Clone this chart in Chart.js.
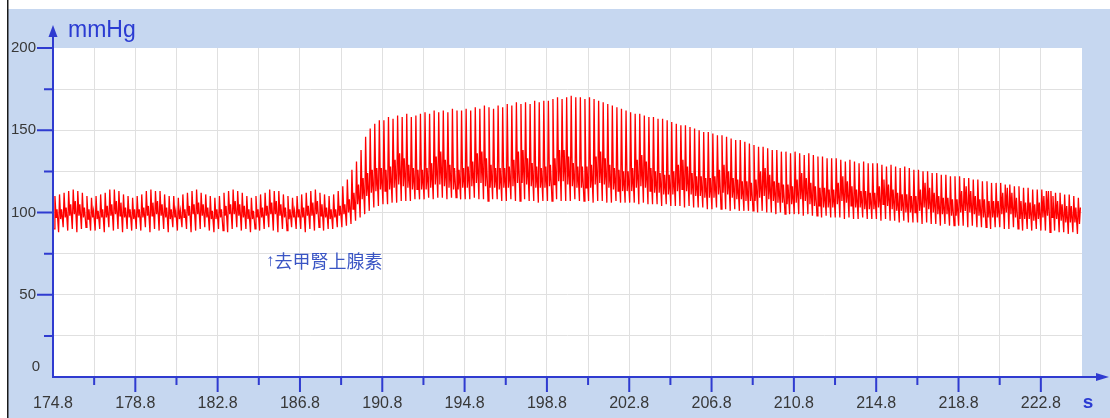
<!DOCTYPE html>
<html>
<head>
<meta charset="utf-8">
<script src="https://cdn.jsdelivr.net/npm/chart.js@4.4.1/dist/chart.umd.min.js"></script>
<style>
  html, body { margin: 0; padding: 0; background: #ffffff; }
  #wrap { width: 1110px; height: 418px; }
</style>
</head>
<body>
<div id="wrap"><canvas id="bp" width="1110" height="418"></canvas></div>
<script>
// Arterial pressure recording, one entry per heart beat (mmHg).
const beatStart = 174.85;   // s, first beat
const beatPeriod = 0.222;   // s between beats

const systolic = [
  110,111,112,113,114,113,112,110,109,
  110,111,112,114,114,113,111,110,109,
  110,111,113,114,113,113,111,110,110,
  109,111,112,113,114,112,111,110,109,
  110,112,113,114,113,112,110,109,110,
  111,112,114,113,113,111,110,109,110,
  111,112,113,114,112,111,110,111,113,
  116,120,126,131,138,146,151,154,156,
  156,158,157,159,158,160,158,159,160,
  161,160,162,161,162,161,163,162,162,
  163,162,164,163,165,164,163,165,164,
  166,165,167,166,167,166,168,167,168,
  168,169,170,169,170,171,170,170,169,
  170,169,168,167,166,165,164,163,162,
  161,160,160,159,158,158,157,157,156,
  155,154,153,153,152,151,150,149,149,
  148,147,147,146,145,144,144,143,142,
  141,140,140,139,138,138,137,137,136,
  137,136,135,136,135,134,134,133,133,
  133,132,131,132,131,130,131,130,130,
  130,129,128,129,128,127,128,127,126,
  126,125,125,124,124,123,123,122,122,
  122,121,121,120,120,119,119,118,118,
  118,117,117,116,116,115,115,114,114,
  114,113,113,112,112,111,111,110,109
];

const diastolic = [
  90,88,91,89,90,88,90,91,89,
  89,90,88,91,89,90,88,90,89,
  90,89,91,88,90,89,90,88,91,
  89,91,90,88,89,90,91,89,88,
  90,89,88,90,91,89,90,88,90,
  89,90,91,89,88,90,89,91,90,
  90,88,90,89,91,89,90,90,91,
  91,92,93,95,97,99,101,103,104,
  105,105,106,106,107,107,107,108,108,
  108,109,108,109,109,108,109,109,108,
  108,108,109,108,108,107,108,108,107,
  107,108,107,107,108,107,107,106,107,
  107,107,108,107,107,107,108,107,107,
  107,106,107,107,106,106,107,106,106,
  106,106,105,106,105,105,105,104,105,
  104,104,104,103,104,103,103,103,102,
  102,103,102,102,101,102,101,101,101,
  101,100,101,100,100,99,100,99,99,
  99,99,98,99,98,98,97,98,97,
  97,97,96,97,96,96,97,96,96,
  96,95,96,95,95,94,95,94,94,
  94,93,94,93,93,92,93,92,92,
  92,92,91,92,91,91,91,90,91,
  91,90,90,91,90,89,90,89,90,
  89,89,88,89,88,88,87,88,87
];

const notch = [
  97,96,97,98,99,98,97,96,97,
  96,97,97,98,99,98,97,97,96,
  97,97,98,98,99,98,97,96,97,
  96,97,98,99,99,98,97,96,96,
  97,98,99,99,98,97,96,96,97,
  97,98,99,99,98,97,96,97,97,
  97,98,98,99,98,97,96,97,98,
  99,100,102,105,108,110,112,113,114,
  113,114,115,117,116,115,114,114,114,
  114,115,117,117,116,115,114,114,115,
  115,116,118,118,116,115,115,114,115,
  115,116,118,118,117,116,115,115,115,
  116,117,119,119,117,116,115,115,115,
  115,117,118,117,115,114,113,113,113,
  113,115,116,115,113,112,112,111,111,
  111,113,114,113,111,110,110,109,109,
  109,111,112,111,109,108,108,107,107,
  107,109,110,108,107,106,106,105,105,
  106,108,107,105,104,104,103,103,103,
  105,107,106,104,103,103,102,102,102,
  103,105,104,102,101,101,100,100,100,
  101,103,102,100,99,99,99,98,98,
  100,101,100,99,98,97,97,97,97,
  99,100,99,97,96,96,96,95,96,
  97,98,97,96,95,94,94,94,93
];

const rebound = [
  102,102,103,105,107,105,103,102,101,
  101,102,104,105,107,106,103,102,102,
  102,103,104,106,107,105,103,102,101,
  101,102,104,105,106,105,103,101,102,
  102,104,105,107,105,104,102,101,102,
  103,104,106,107,105,103,102,101,102,
  103,104,106,107,105,103,102,102,104,
  105,108,112,117,121,124,126,127,127,
  126,128,132,136,133,129,127,126,126,
  127,130,134,137,132,129,127,126,127,
  128,131,136,137,133,129,127,127,127,
  128,132,137,138,133,130,128,127,128,
  129,133,138,138,134,130,128,128,128,
  129,134,137,133,129,127,126,125,125,
  127,132,135,131,127,125,124,123,123,
  125,129,132,128,124,122,122,121,121,
  122,126,129,125,121,120,119,119,118,
  120,125,127,123,119,118,117,117,116,
  120,124,121,118,116,115,115,114,114,
  118,122,119,116,114,113,113,112,112,
  116,120,117,114,112,111,111,110,110,
  114,118,115,112,110,109,109,108,108,
  113,116,113,110,108,108,107,107,107,
  112,115,112,109,107,106,106,105,106,
  110,113,110,107,105,104,104,103,103
];

// Axis ticks and labels
const timeLabels = [174.8, 178.8, 182.8, 186.8, 190.8, 194.8, 198.8, 202.8, 206.8, 210.8, 214.8, 218.8, 222.8];
const timeMinor  = [176.8, 180.8, 184.8, 188.8, 192.8, 196.8, 200.8, 204.8, 208.8, 212.8, 216.8, 220.8];
const timeGrid   = [176.8, 178.8, 180.8, 182.8, 184.8, 186.8, 188.8, 190.8, 192.8, 194.8, 196.8, 198.8,
                    200.8, 202.8, 204.8, 206.8, 208.8, 210.8, 212.8, 214.8, 216.8, 218.8, 220.8, 222.8];
const pressureLabels = [0, 50, 100, 150, 200];
const pressureMinor  = [25, 75, 125, 175];
const pressureGrid   = [25, 50, 75, 100, 125, 150, 175];

const drugNote = { arrow: '↑', text: '去甲腎上腺素', time: 185.15, value: 70.5 };

// Each beat: diastolic foot, systolic peak, dicrotic notch, rebound wave
const trace = [];
systolic.forEach((sys, i) => {
  const t = beatStart + i * beatPeriod;
  trace.push({ x: t, y: diastolic[i] });
  trace.push({ x: t + 0.20 * beatPeriod, y: sys });
  trace.push({ x: t + 0.45 * beatPeriod, y: notch[i] });
  trace.push({ x: t + 0.65 * beatPeriod, y: rebound[i] });
});

const PANEL = '#c6d7f0';
const AXIS = '#2f3bd0';
const TEXT = '#383838';

const frame = {
  id: 'frame',
  beforeDraw(chart) {
    const { ctx, chartArea: a, width, height } = chart;
    ctx.save();
    ctx.fillStyle = '#ffffff';
    ctx.fillRect(0, 0, width, height);
    ctx.fillStyle = PANEL;
    ctx.fillRect(8, 9, width - 8, height - 9);
    ctx.fillStyle = '#ffffff';
    ctx.fillRect(a.left, a.top, a.right - a.left, a.bottom - a.top);
    ctx.fillStyle = '#1a1a1a';
    ctx.fillRect(7, 0, 1.5, height);
    ctx.restore();
  },
  afterDraw(chart) {
    const { ctx } = chart;
    const xs = chart.scales.x, ys = chart.scales.y;
    const ox = xs.getPixelForValue(xs.min);
    const oy = ys.getPixelForValue(ys.min);
    ctx.save();
    ctx.strokeStyle = AXIS;
    ctx.fillStyle = AXIS;
    ctx.lineWidth = 2;
    ctx.lineCap = 'butt';

    // axes
    ctx.beginPath();
    ctx.moveTo(ox, oy); ctx.lineTo(ox, 34);
    ctx.moveTo(ox - 1, oy); ctx.lineTo(1100, oy);
    ctx.stroke();
    // arrow heads
    ctx.beginPath();
    ctx.moveTo(ox, 25); ctx.lineTo(ox - 4.5, 37); ctx.lineTo(ox + 4.5, 37); ctx.closePath();
    ctx.fill();
    ctx.beginPath();
    ctx.moveTo(1109, oy); ctx.lineTo(1096, oy - 4); ctx.lineTo(1096, oy + 4); ctx.closePath();
    ctx.fill();

    // y ticks
    ctx.beginPath();
    pressureLabels.filter(v => v > 0).forEach(v => {
      const y = ys.getPixelForValue(v);
      ctx.moveTo(ox - 16, y); ctx.lineTo(ox, y);
    });
    pressureMinor.forEach(v => {
      const y = ys.getPixelForValue(v);
      ctx.moveTo(ox - 9, y); ctx.lineTo(ox, y);
    });
    // x ticks
    timeLabels.filter(v => v > xs.min).forEach(v => {
      const x = xs.getPixelForValue(v);
      ctx.moveTo(x, oy); ctx.lineTo(x, oy + 15);
    });
    timeMinor.forEach(v => {
      const x = xs.getPixelForValue(v);
      ctx.moveTo(x, oy); ctx.lineTo(x, oy + 8);
    });
    ctx.stroke();

    // tick labels
    ctx.fillStyle = TEXT;
    ctx.font = '15px "Liberation Sans", Arial, sans-serif';
    ctx.textAlign = 'right';
    ctx.textBaseline = 'middle';
    pressureLabels.forEach(v => {
      const y = ys.getPixelForValue(v);
      if (v === 0) {
        ctx.textAlign = 'center';
        ctx.fillText('0', 36, y - 10);
        ctx.textAlign = 'right';
      } else {
        ctx.fillText(String(v), 36, y);
      }
    });
    ctx.font = '16px "Liberation Sans", Arial, sans-serif';
    ctx.textAlign = 'center';
    timeLabels.forEach(v => {
      ctx.fillText(v.toFixed(1), xs.getPixelForValue(v), 404);
    });

    // axis units
    ctx.fillStyle = '#2a3bd2';
    ctx.textAlign = 'left';
    ctx.textBaseline = 'alphabetic';
    ctx.font = '23px "Liberation Sans", Arial, sans-serif';
    ctx.fillText('mmHg', 68, 37);
    ctx.font = 'bold 19px "Liberation Sans", Arial, sans-serif';
    ctx.textAlign = 'center';
    ctx.textBaseline = 'middle';
    ctx.fillText('s', 1088, 403);

    // drug administration mark
    ctx.fillStyle = '#3a55c4';
    ctx.textAlign = 'left';
    const nx = xs.getPixelForValue(drugNote.time);
    const ny = ys.getPixelForValue(drugNote.value);
    ctx.font = '17px "Liberation Sans", sans-serif';
    ctx.fillText(drugNote.arrow, nx, ny);
    const aw = ctx.measureText(drugNote.arrow).width;
    ctx.font = '18px "Noto Sans CJK TC", "Noto Sans CJK SC", sans-serif';
    ctx.fillText(drugNote.text, nx + aw, ny);
    ctx.restore();
  }
};

new Chart(document.getElementById('bp'), {
  type: 'line',
  data: {
    datasets: [{
      data: trace,
      parsing: false,
      borderColor: '#ff0000',
      borderWidth: 1.3,
      pointRadius: 0,
      tension: 0,
      fill: false
    }]
  },
  options: {
    responsive: false,
    animation: false,
    events: [],
    layout: { autoPadding: false, padding: { left: 53, top: 48, right: 28, bottom: 41 } },
    plugins: { legend: { display: false }, tooltip: { enabled: false } },
    scales: {
      x: {
        type: 'linear', min: 174.8, max: 224.8,
        afterBuildTicks: s => { s.ticks = timeGrid.map(v => ({ value: v })); },
        ticks: { display: false },
        grid: { color: '#e0e0e0', lineWidth: 1, drawTicks: false },
        border: { display: false }
      },
      y: {
        type: 'linear', min: 0, max: 200,
        afterBuildTicks: s => { s.ticks = pressureGrid.map(v => ({ value: v })); },
        ticks: { display: false },
        grid: { color: '#e0e0e0', lineWidth: 1, drawTicks: false },
        border: { display: false }
      }
    }
  },
  plugins: [frame]
});
</script>
</body>
</html>
